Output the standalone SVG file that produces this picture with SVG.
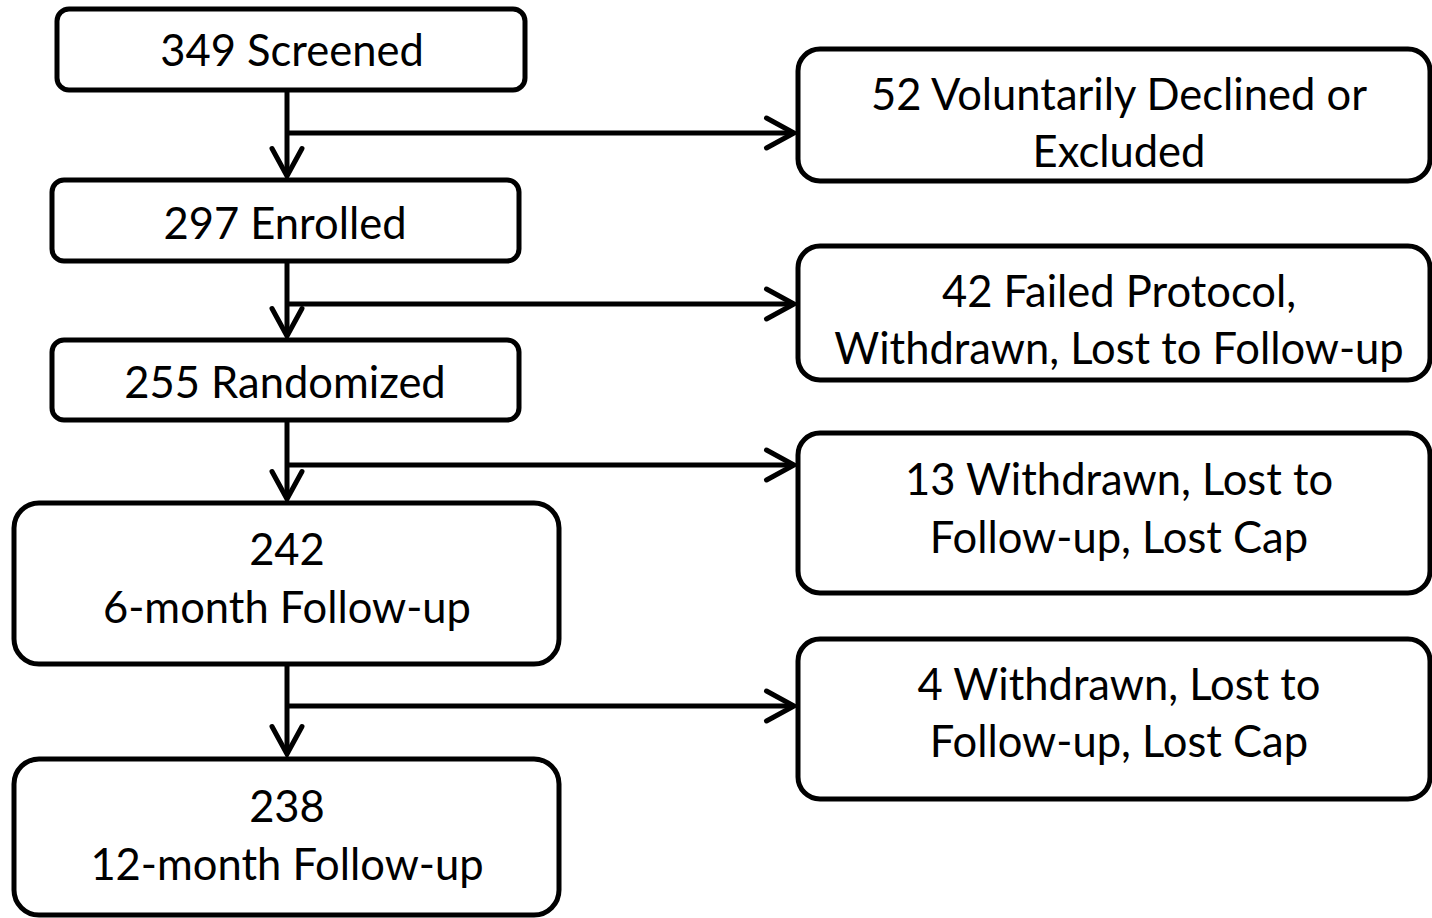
<svg xmlns="http://www.w3.org/2000/svg" width="1432" height="918" viewBox="0 0 1432 918">
<defs>
<marker id="arr" markerWidth="8" markerHeight="10" refX="6" refY="4" orient="auto" markerUnits="strokeWidth" viewBox="0 0 8 8" overflow="visible">
<path d="M0.5,1 L6,4 L0.5,7" fill="none" stroke="#000" stroke-width="1" stroke-linecap="round" stroke-linejoin="miter"/>
</marker>
<style>
.box{fill:#fff;stroke:#000;stroke-width:5}
.t{font-family:Lato,"Open Sans","Liberation Sans",sans-serif;font-size:43.5px;fill:#000;text-anchor:middle}
.c{stroke:#000;stroke-width:5;fill:none}
</style>
</defs>
<rect width="1432" height="918" fill="#fff"/>
<g id="connectors">
<path class="c" d="M287,90 V176" marker-end="url(#arr)"/>
<path class="c" d="M287,133 H794" marker-end="url(#arr)"/>
<path class="c" d="M287,261 V336" marker-end="url(#arr)"/>
<path class="c" d="M287,304 H794" marker-end="url(#arr)"/>
<path class="c" d="M287,420 V499" marker-end="url(#arr)"/>
<path class="c" d="M287,465 H794" marker-end="url(#arr)"/>
<path class="c" d="M287,664 V754" marker-end="url(#arr)"/>
<path class="c" d="M287,706 H794" marker-end="url(#arr)"/>
</g>
<g id="screened"><rect class="box" x="57" y="9" width="468" height="81" rx="12"/><text class="t" x="292" y="66">349 Screened</text></g>
<g id="enrolled"><rect class="box" x="52" y="180" width="467" height="81" rx="12"/><text class="t" x="285" y="239">297 Enrolled</text></g>
<g id="randomized"><rect class="box" x="52" y="340" width="467" height="80" rx="12"/><text class="t" x="285" y="398">255 Randomized</text></g>
<g id="fu6"><rect class="box" x="14" y="503" width="545" height="161" rx="25"/><text class="t" x="287" y="565">242</text><text class="t" x="287" y="623">6-month Follow-up</text></g>
<g id="fu12"><rect class="box" x="14" y="759" width="545" height="156" rx="25"/><text class="t" x="287" y="822">238</text><text class="t" x="287" y="880">12-month Follow-up</text></g>
<g id="declined"><rect class="box" x="798" y="49" width="632" height="132" rx="22"/><text class="t" x="1119" y="110">52 Voluntarily Declined or</text><text class="t" x="1119" y="167">Excluded</text></g>
<g id="failed"><rect class="box" x="798" y="246" width="632" height="134" rx="22"/><text class="t" x="1119" y="307">42 Failed Protocol,</text><text class="t" x="1119" y="364">Withdrawn, Lost to Follow-up</text></g>
<g id="lost13"><rect class="box" x="798" y="433" width="632" height="160" rx="22"/><text class="t" x="1119" y="495">13 Withdrawn, Lost to</text><text class="t" x="1119" y="553">Follow-up, Lost Cap</text></g>
<g id="lost4"><rect class="box" x="798" y="639" width="632" height="160" rx="22"/><text class="t" x="1119" y="700">4 Withdrawn, Lost to</text><text class="t" x="1119" y="757">Follow-up, Lost Cap</text></g>
</svg>
